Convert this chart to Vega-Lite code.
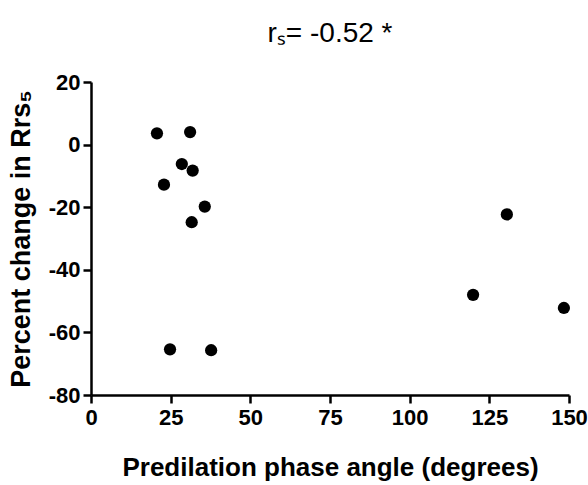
{
  "$schema": "https://vega.github.io/schema/vega-lite/v6.json",
  "width": 478,
  "height": 313,
  "autosize": "none",
  "padding": {"left": 91, "top": 82, "right": 19, "bottom": 90},
  "background": "white",
  "title": {
    "text": "rₛ= -0.52 *",
    "font": "Liberation Sans",
    "fontSize": 28,
    "fontWeight": "normal",
    "color": "black",
    "anchor": "middle",
    "offset": 23
  },
  "data": {
    "values": [
      {"angle": 20.7, "change": 3.6},
      {"angle": 31.1, "change": 4.0},
      {"angle": 28.5, "change": -6.2},
      {"angle": 31.9, "change": -8.3},
      {"angle": 22.9, "change": -12.8},
      {"angle": 35.7, "change": -19.8},
      {"angle": 31.6, "change": -24.8},
      {"angle": 24.8, "change": -65.4},
      {"angle": 37.7, "change": -65.7},
      {"angle": 130.5, "change": -22.3},
      {"angle": 119.9, "change": -48.0},
      {"angle": 148.4, "change": -52.2}
    ]
  },
  "mark": {"type": "point", "filled": true, "color": "black", "opacity": 1, "size": 150},
  "encoding": {
    "x": {
      "field": "angle",
      "type": "quantitative",
      "scale": {"domain": [0, 150], "nice": false, "zero": false},
      "axis": {
        "values": [0, 25, 50, 75, 100, 125, 150],
        "title": "Predilation phase angle (degrees)",
        "titleFontSize": 26,
        "titleFont": "Liberation Sans",
        "titleFontWeight": 700,
        "titleColor": "black",
        "titlePadding": 26,
        "labelFont": "Liberation Sans",
        "labelFontSize": 22,
        "labelFontWeight": 700,
        "labelColor": "black",
        "labelPadding": 4,
        "domainColor": "black",
        "domainWidth": 2.5,
        "tickColor": "black",
        "tickWidth": 2.5,
        "tickSize": 8,
        "grid": false,
        "labelFlush": false
      }
    },
    "y": {
      "field": "change",
      "type": "quantitative",
      "scale": {"domain": [-80, 20], "nice": false, "zero": false},
      "axis": {
        "values": [-80, -60, -40, -20, 0, 20],
        "labelExpr": "replace(datum.label, '−', '-')",
        "title": "Percent change in Rrs₅",
        "titleFontSize": 27,
        "titleFont": "Liberation Sans",
        "titleFontWeight": 700,
        "titleColor": "black",
        "titlePadding": 13,
        "labelFont": "Liberation Sans",
        "labelFontSize": 22,
        "labelFontWeight": 700,
        "labelColor": "black",
        "labelPadding": 3,
        "domainColor": "black",
        "domainWidth": 2.5,
        "tickColor": "black",
        "tickWidth": 2.5,
        "tickSize": 8,
        "grid": false,
        "labelFlush": false
      }
    }
  },
  "config": {"view": {"stroke": null}}
}
